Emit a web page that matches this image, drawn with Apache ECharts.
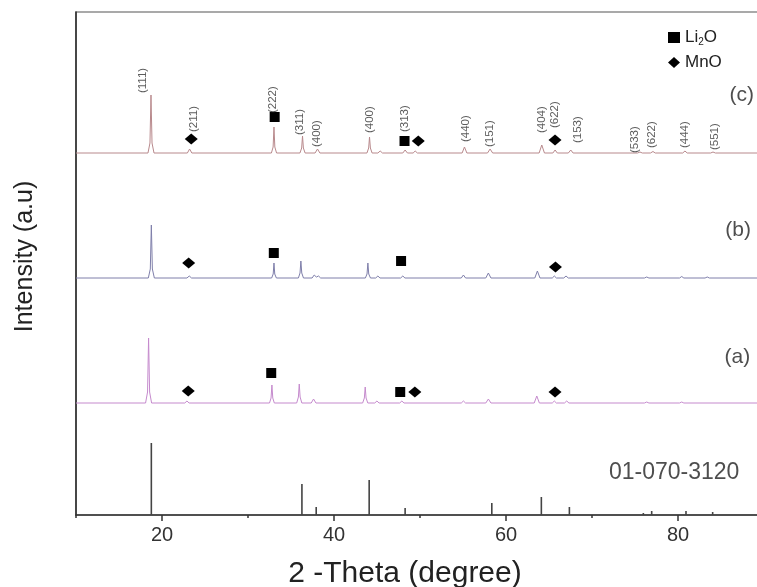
<!DOCTYPE html>
<html>
<head>
<meta charset="utf-8">
<script src="https://cdn.jsdelivr.net/npm/echarts@6/dist/echarts.min.js"></script>
<style>html,body{margin:0;padding:0;background:#fff}#c{width:757px;height:587px}</style>
</head>
<body>
<div id="c"></div>
<script>
// ---------- DATA (2-Theta in degrees, intensity in a.u. relative to each trace baseline) ----------
const xLabelTicks = [20, 40, 60, 80];
const xMinorTicks = [10, 30, 50, 70, 90];

const patternC = [
  [10,0],[18.37,0],[18.6,10],[18.72,58],[18.84,10],[19.07,0],
  [22.95,0],[23.21,4],[23.47,0],
  [32.72,0],[32.92,6],[33.02,26],[33.12,6],[33.32,0],
  [36.04,0],[36.24,5],[36.34,17],[36.44,5],[36.64,0],
  [37.8,0],[38.08,4],[38.36,0],
  [43.83,0],[44.03,5],[44.13,16],[44.23,5],[44.43,0],
  [45.1,0],[45.37,2],[45.64,0],
  [48.0,0],[48.27,3],[48.54,0],
  [49.2,0],[49.44,2],[49.7,0],
  [54.9,0],[55.17,6],[55.45,0],
  [57.85,0],[58.15,4],[58.45,0],
  [63.85,0],[64.16,8],[64.47,0],
  [65.45,0],[65.71,3],[65.97,0],
  [67.25,0],[67.53,3],[67.8,0],
  [75.3,0],[75.58,1],[75.85,0],
  [76.8,0],[77.09,1.5],[77.35,0],
  [80.55,0],[80.81,2],[81.07,0],
  [83.8,0],[84.07,1],[84.35,0],
  [90,0]
];
const patternB = [
  [10,0],[18.41,0],[18.64,9],[18.76,53],[18.88,9],[19.11,0],
  [22.9,0],[23.17,2],[23.44,0],
  [32.75,0],[32.93,4],[33.02,15],[33.11,4],[33.3,0],
  [35.86,0],[36.05,5],[36.15,17],[36.25,5],[36.45,0],
  [37.45,0],[37.7,3],[37.95,1],[38.2,2],[38.45,0],
  [43.65,0],[43.84,4],[43.94,15],[44.04,4],[44.24,0],
  [44.85,0],[45.1,2],[45.35,0],
  [47.75,0],[48.0,2],[48.25,0],
  [54.8,0],[55.05,3],[55.3,0],
  [57.65,0],[57.95,5],[58.25,0],
  [63.35,0],[63.65,7],[63.95,0],
  [65.38,0],[65.62,2],[65.86,0],
  [66.72,0],[66.98,2],[67.24,0],
  [76.1,0],[76.36,1],[76.62,0],
  [80.18,0],[80.43,1.5],[80.68,0],
  [83.15,0],[83.4,1],[83.65,0],
  [90,0]
];
const patternA = [
  [10,0],[18.09,0],[18.32,11],[18.44,65],[18.56,11],[18.79,0],
  [22.65,0],[22.9,2],[23.15,0],
  [32.5,0],[32.68,5],[32.78,18],[32.88,5],[33.06,0],
  [35.66,0],[35.86,6],[35.96,19],[36.06,6],[36.26,0],
  [37.35,0],[37.62,4],[37.9,0],
  [43.33,0],[43.53,5],[43.63,16],[43.73,5],[43.93,0],
  [44.74,0],[44.99,2],[45.24,0],
  [47.64,0],[47.89,2],[48.14,0],
  [54.8,0],[55.05,2],[55.3,0],
  [57.65,0],[57.95,4],[58.25,0],
  [63.28,0],[63.58,7],[63.88,0],
  [65.38,0],[65.62,2],[65.86,0],
  [66.8,0],[67.06,2],[67.32,0],
  [76.1,0],[76.36,1],[76.62,0],
  [80.18,0],[80.43,1],[80.68,0],
  [90,0]
];
// reference card 01-070-3120 : [2-Theta, intensity]
const refPeaks = [
  [18.76,72],[36.27,31],[37.93,8],[44.09,35],[48.27,7],[58.35,12],
  [64.11,18],[67.37,8],[75.97,2],[76.94,4],[80.93,4],[84.03,3]
];
// impurity markers : [2-Theta, intensity in stacked plot]
const li2oMarks = [[33.1,398],[48.2,374],[33.0,262],[47.8,254],[32.7,142],[47.7,123]];
const mnoMarks  = [[23.4,376],[49.8,374],[65.7,375],[23.1,252],[65.75,248],[23.05,124],[49.4,123],[65.7,123]];
// Miller indices of trace (c)
const hklNames = ['(111)','(211)','(222)','(311)','(400)','(400)','(313)','(440)','(151)','(404)','(622)','(153)','(533)','(622)','(444)','(551)'];
const hklTheta = [17.79,23.67,32.85,36.07,38.01,44.21,48.27,55.36,58.15,64.16,65.62,68.41,75.0,77.01,80.81,84.3];
const hklLevel = [422,383,402,380,368,382,383,373,368,382,387,372,362,367,367,365];
// trace names
const traceNames = ['(c)','(b)','(a)','01-070-3120'];

// ---------- LAYOUT / STYLE ----------
const offsets = {c:362, b:237, a:112};
const tracePos = [[87.4,420],[87.0,285],[86.9,158],[79.55,42]];
const traceFont = [21, 21, 21, 23];
const FONT = 'Liberation Sans, Arial, sans-serif';
const shift = (arr, off) => arr.map(p => [p[0], p[1] + off]);

const chart = echarts.init(document.getElementById('c'), null, {renderer:'canvas'});
chart.setOption({
  animation:false,
  backgroundColor:'#fff',
  textStyle:{fontFamily:FONT},
  grid:{left:76, top:12, width:688, height:503, outerBoundsMode:'none', containLabel:false,
        show:true, borderColor:'#555', borderWidth:1.2, backgroundColor:'transparent'},
  legend:{
    data:['Li2O','MnO'], orient:'vertical', left:663, top:24, itemWidth:12, itemHeight:11, itemGap:7,
    selectedMode:false,
    formatter: n => n === 'Li2O' ? '{t|Li}{s|2}{t|O}' : '{t|MnO}',
    textStyle:{fontFamily:FONT, rich:{t:{fontSize:17, color:'#222', fontFamily:FONT, lineHeight:19}, s:{fontSize:10, color:'#222', fontFamily:FONT, verticalAlign:'bottom', lineHeight:19}}}
  },
  xAxis:[{
    type:'value', min:10, max:90, interval:10,
    name:'2 -Theta (degree)', nameLocation:'middle', nameGap:44,
    nameTextStyle:{fontSize:30, color:'#222', fontFamily:FONT, padding:[0,30,0,0]},
    axisLine:{lineStyle:{color:'#333', width:1.6}},
    axisTick:{customValues:xLabelTicks, length:6, lineStyle:{color:'#333', width:1.5}},
    axisLabel:{customValues:xLabelTicks, fontSize:20, color:'#333', margin:10, fontFamily:FONT},
    splitLine:{show:false}
  },{
    type:'value', min:10, max:90, interval:10, position:'bottom',
    axisLine:{show:false},
    axisTick:{customValues:xMinorTicks, length:3, lineStyle:{color:'#333', width:1.5}},
    axisLabel:{show:false}, splitLine:{show:false}
  }],
  yAxis:{
    type:'value', min:0, max:503,
    name:'Intensity (a.u)', nameLocation:'middle', nameGap:38,
    nameTextStyle:{fontSize:25, color:'#222', fontFamily:FONT, padding:[0,0,0,14]},
    axisLine:{show:true, lineStyle:{color:'#333', width:1.6}},
    axisTick:{show:false}, axisLabel:{show:false}, splitLine:{show:false}
  },
  series:[
    {name:'c', type:'line', data:shift(patternC, offsets.c), showSymbol:false, symbol:'none', lineStyle:{color:'#b8898c', width:1}, silent:true},
    {name:'b', type:'line', data:shift(patternB, offsets.b), showSymbol:false, symbol:'none', lineStyle:{color:'#7f7faa', width:1}, silent:true},
    {name:'a', type:'line', data:shift(patternA, offsets.a), showSymbol:false, symbol:'none', lineStyle:{color:'#c58acd', width:1}, silent:true},
    {name:'ref', type:'bar', data:refPeaks, barWidth:1.6, itemStyle:{color:'#444'}, silent:true},
    {name:'Li2O', type:'scatter', data:li2oMarks, symbol:'rect', symbolSize:[10,10], itemStyle:{color:'#000', opacity:1}, z:5},
    {name:'MnO', type:'scatter', data:mnoMarks, symbol:'diamond', symbolSize:[13,11], itemStyle:{color:'#000', opacity:1}, z:5},
    {name:'hkl', type:'scatter', symbolSize:0, silent:true, z:6,
      data:hklNames.map((n,i)=>({name:n, value:[hklTheta[i], hklLevel[i]]})),
      label:{show:true, position:'inside', rotate:90, align:'left', verticalAlign:'middle', fontSize:11.5, color:'#333', fontFamily:FONT, formatter:p=>p.name}},
    {name:'traces', type:'scatter', symbolSize:0, silent:true, z:6,
      data:traceNames.map((n,i)=>({name:n, value:tracePos[i], label:{fontSize:traceFont[i]}})),
      label:{show:true, position:'inside', align:'center', verticalAlign:'middle', fontSize:20, color:'#222', fontFamily:FONT, formatter:p=>p.name}}
  ]
});
</script>
</body>
</html>
